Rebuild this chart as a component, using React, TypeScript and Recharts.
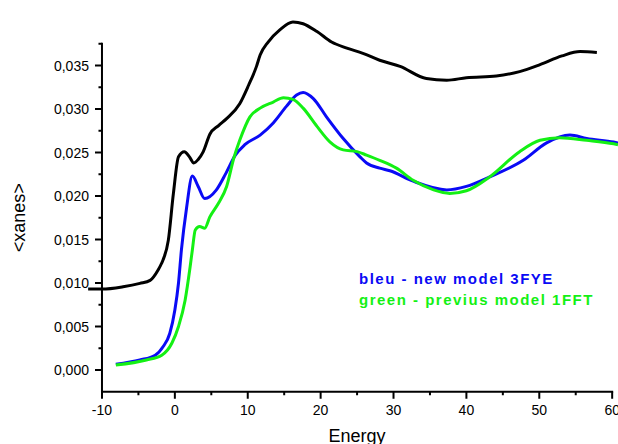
import { LineChart, Line, XAxis, YAxis, ReferenceLine, Legend } from 'recharts';

// curves (energy in eV, <xanes>)
const blackEnergy = [-11.9, -10, -7.1, -4.8, -3.4, -2.3, -1.8, -1.6, -0.9, -0.2, 0.5, 1.3, 2.0, 2.6, 3.2, 3.9, 4.8, 6.0, 7.1, 8.9, 10.1, 11.2, 11.7, 12.8, 14.4, 16.2, 17.6, 19.5, 21.5, 23.6, 25.8, 28.1, 30.9, 34.5, 37.3, 40.0, 44.1, 47.3, 50.1, 53.1, 55.6, 57.9];
const blackXanes = [0.0093, 0.0093, 0.00957, 0.00996, 0.0103, 0.0115, 0.0123, 0.0127, 0.0149, 0.0203, 0.0245, 0.0251, 0.0245, 0.0238, 0.0242, 0.0251, 0.0271, 0.0281, 0.0289, 0.0306, 0.0327, 0.0349, 0.0362, 0.0377, 0.0391, 0.0400, 0.0398, 0.0389, 0.0377, 0.0370, 0.0364, 0.0356, 0.0349, 0.0335, 0.0333, 0.0336, 0.0338, 0.0343, 0.0351, 0.0361, 0.0366, 0.0365];

const blueEnergy = [-8.1, -4.8, -2.7, -1.6, -0.7, 0.0, 0.5, 0.9, 1.6, 2.4, 3.2, 4.1, 5.7, 7.0, 8.3, 9.6, 11.7, 13.5, 15.3, 16.7, 17.6, 19.0, 20.8, 23.1, 25.4, 26.3, 28.1, 29.5, 32.7, 37.3, 40.0, 43.2, 47.8, 51.0, 54.2, 56.5, 60.2, 60.8];
const blueXanes = [0.00065, 0.00115, 0.0017, 0.0027, 0.0042, 0.0069, 0.0100, 0.0138, 0.0186, 0.0223, 0.0211, 0.0197, 0.0207, 0.0226, 0.0247, 0.0259, 0.0270, 0.0284, 0.0303, 0.0316, 0.0319, 0.0312, 0.0291, 0.0266, 0.0245, 0.0238, 0.0232, 0.0229, 0.0217, 0.0207, 0.0211, 0.0222, 0.0241, 0.0261, 0.0270, 0.0266, 0.0262, 0.0261];

const greenEnergy = [-8.1, -3.9, -1.8, -0.4, 0.5, 1.4, 2.1, 2.4, 2.8, 3.4, 4.1, 4.8, 6.0, 7.1, 8.1, 8.9, 10.3, 11.7, 13.5, 14.9, 16.2, 17.6, 19.5, 21.3, 23.1, 25.0, 26.3, 28.1, 30.4, 32.7, 35.5, 37.7, 40.0, 43.2, 47.3, 50.1, 52.8, 56.5, 60.2, 60.8];
const greenXanes = [0.00057, 0.00115, 0.0017, 0.0031, 0.0050, 0.0080, 0.0119, 0.0138, 0.0161, 0.0165, 0.0163, 0.0176, 0.0192, 0.0211, 0.0244, 0.0264, 0.0291, 0.0301, 0.0308, 0.0313, 0.0311, 0.0301, 0.0280, 0.0262, 0.0253, 0.0251, 0.0247, 0.0241, 0.0232, 0.0218, 0.0207, 0.0203, 0.0206, 0.0222, 0.0251, 0.0264, 0.0267, 0.0264, 0.0260, 0.0259];

const xTicks = [-10, -5, 0, 5, 10, 15, 20, 25, 30, 35, 40, 45, 50, 55, 60];
const xLabelled = [-10, 0, 10, 20, 30, 40, 50, 60];
const yTicks = [0, 0.0025, 0.005, 0.0075, 0.01, 0.0125, 0.015, 0.0175, 0.02, 0.0225, 0.025, 0.0275, 0.03, 0.0325, 0.035, 0.0375];
const yLabelled = [0, 0.005, 0.01, 0.015, 0.02, 0.025, 0.03, 0.035];

const seriesNames = ['reference', 'bleu - new model 3FYE', 'green - previus model 1FFT'];

const toRows = (xs: number[], ys: number[]) => xs.map((energy, i) => ({ energy, xanes: ys[i] }));

const CHART_W = 618;
const CHART_H = 444;
const AXIS_SIZE = 1;
const MARGIN = { top: 13.3, right: 0, bottom: 52.25 - AXIS_SIZE, left: 87.4 - AXIS_SIZE };
const X_DOMAIN: [number, number] = [-12, 60.8];
const Y_DOMAIN: [number, number] = [-0.0025, 0.041];
// the drawn frame is smaller than the data range
const FRAME_X: [number, number] = [-10, 60];
const FRAME_Y: [number, number] = [-0.0025, 0.0375];
const PLOT_W = CHART_W - MARGIN.left - AXIS_SIZE - MARGIN.right;
const SPINE_DX = ((FRAME_X[0] - X_DOMAIN[0]) / (X_DOMAIN[1] - X_DOMAIN[0])) * PLOT_W;

const FONT = '"Liberation Sans", Arial, sans-serif';
const near = (a: number, list: number[]) => list.some((v) => Math.abs(v - a) < 1e-9);

const XTick = ({ x, y, payload }: any) => {
  const major = near(payload.value, xLabelled);
  return (
    <g>
      <line x1={x} x2={x} y1={y} y2={y + (major ? 7 : 3.5)} stroke="#000" strokeWidth={2} />
      {major && (
        <text x={x} y={y + 23} textAnchor="middle" fontFamily={FONT} fontSize={14} fill="#000">
          {payload.value}
        </text>
      )}
    </g>
  );
};

const YTick = ({ x, y, payload }: any) => {
  const major = near(payload.value, yLabelled);
  const sx = x + SPINE_DX;
  return (
    <g>
      <line x1={sx - (major ? 7 : 3.5)} x2={sx} y1={y} y2={y} stroke="#000" strokeWidth={2} />
      {major && (
        <text x={sx - 13} y={y + 5} textAnchor="end" fontFamily={FONT} fontSize={14} fill="#000">
          {payload.value.toFixed(3).replace('.', ',')}
        </text>
      )}
    </g>
  );
};

const EnergyLabel = ({ viewBox }: any) => {
  const mid = (FRAME_X[0] + FRAME_X[1]) / 2;
  const cx = viewBox.x + ((mid - X_DOMAIN[0]) / (X_DOMAIN[1] - X_DOMAIN[0])) * viewBox.width;
  return (
    <text x={cx} y={viewBox.y + 50} textAnchor="middle" fontFamily={FONT} fontSize={18} fill="#000">
      Energy
    </text>
  );
};

const XanesLabel = ({ viewBox }: any) => {
  const mid = (FRAME_Y[0] + FRAME_Y[1]) / 2;
  const cy = viewBox.y + ((Y_DOMAIN[1] - mid) / (Y_DOMAIN[1] - Y_DOMAIN[0])) * viewBox.height;
  const cx = 19;
  return (
    <text
      x={cx}
      y={cy}
      transform={`rotate(-90, ${cx}, ${cy})`}
      textAnchor="middle"
      dominantBaseline="central"
      fontFamily={FONT}
      fontSize={18}
      fill="#000"
    >
      {'<xanes>'}
    </text>
  );
};

const LegendText = ({ payload }: any) => (
  <div style={{ fontFamily: FONT, fontWeight: 700, fontSize: 15, letterSpacing: 1.5, lineHeight: '21px' }}>
    {(payload || [])
      .filter((p: any) => p.type !== 'none')
      .map((p: any) => (
        <div key={p.value} style={{ color: p.color, whiteSpace: 'nowrap' }}>
          {p.value}
        </div>
      ))}
  </div>
);

export default function App() {
  return (
    <div style={{ position: 'absolute', left: 0, top: 0, background: '#fff' }}>
      <LineChart width={CHART_W} height={CHART_H} margin={MARGIN}>
        <XAxis
          dataKey="energy"
          type="number"
          domain={X_DOMAIN}
          ticks={xTicks}
          interval={0}
          height={AXIS_SIZE}
          axisLine={false}
          tickLine={false}
          tickSize={0}
          tickMargin={0}
          tick={XTick}
          label={{ content: EnergyLabel }}
        />
        <YAxis
          type="number"
          domain={Y_DOMAIN}
          ticks={yTicks}
          interval={0}
          width={AXIS_SIZE}
          axisLine={false}
          tickLine={false}
          tickSize={0}
          tickMargin={0}
          tick={YTick}
          label={{ content: XanesLabel }}
        />
        <ReferenceLine
          segment={[{ x: FRAME_X[0], y: FRAME_Y[0] }, { x: FRAME_X[1], y: FRAME_Y[0] }]}
          stroke="#000"
          strokeWidth={2}
          strokeLinecap="square"
          ifOverflow="visible"
        />
        <ReferenceLine
          segment={[{ x: FRAME_X[0], y: FRAME_Y[0] }, { x: FRAME_X[0], y: FRAME_Y[1] }]}
          stroke="#000"
          strokeWidth={2}
          strokeLinecap="square"
          ifOverflow="visible"
        />
        <Line
          data={toRows(blackEnergy, blackXanes)}
          dataKey="xanes"
          name={seriesNames[0]}
          type="monotone"
          stroke="#000"
          strokeWidth={3}
          dot={false}
          legendType="none"
          isAnimationActive={false}
        />
        <Line
          data={toRows(blueEnergy, blueXanes)}
          dataKey="xanes"
          name={seriesNames[1]}
          type="monotone"
          stroke="#0a0af5"
          strokeWidth={3}
          dot={false}
          isAnimationActive={false}
        />
        <Line
          data={toRows(greenEnergy, greenXanes)}
          dataKey="xanes"
          name={seriesNames[2]}
          type="monotone"
          stroke="#14f014"
          strokeWidth={3}
          dot={false}
          isAnimationActive={false}
        />
        <Legend
          layout="horizontal"
          verticalAlign="middle"
          align="center"
          content={LegendText}
          wrapperStyle={{ left: 359, top: 268, width: 'auto' }}
        />
      </LineChart>
    </div>
  );
}
